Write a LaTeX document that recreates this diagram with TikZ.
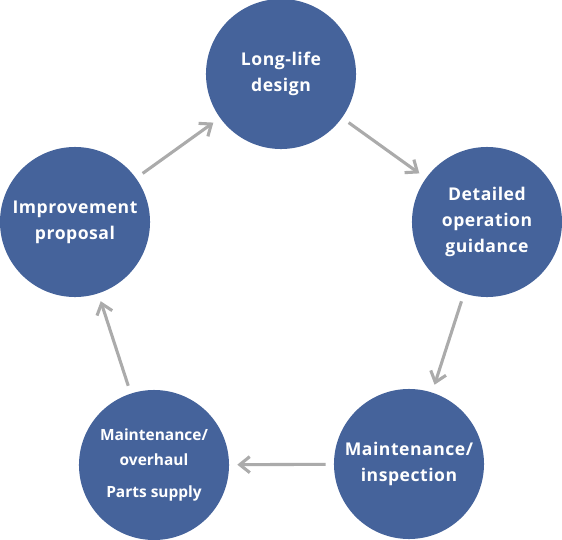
\documentclass[tikz,border=0pt]{standalone}
\usepackage{fontspec}
\setmainfont{Open Sans}
\newfontfamily\spacedfont[LetterSpace=3]{Open Sans}
\usetikzlibrary{arrows.meta}
\definecolor{cycleblue}{HTML}{45639B}
\definecolor{arrowgray}{HTML}{ABABAB}

\begin{document}
\begin{tikzpicture}[x=0.025cm, y=-0.025cm,
    stage/.style={circle, fill=cycleblue, text=white, minimum size=3.75cm, inner sep=0pt, align=center,
                  font=\spacedfont\bfseries\fontsize{12.5}{18.5}\selectfont},
    flow/.style={draw=arrowgray, line width=2.2pt, -{Straight Barb[length=2.5mm,width=4mm]},
                 shorten >=0.2cm, shorten <=0.2cm}]
            \useasboundingbox (0,0) rectangle (562,540);

            % Stages of the cycle, clockwise from the top.
            \node[stage] (design)     at (281,74)  {Long-life\\design};
            \node[stage] (guidance)   at (487,222) {Detailed\\operation\\guidance};
            \node[stage] (inspection) at (409,464) {Maintenance/\\inspection};
            \node[stage, font=\bfseries\fontsize{11}{17.5}\selectfont]
                         (overhaul)   at (154,465) {Maintenance/\\overhaul\\[5pt]Parts supply};
            \node[stage] (proposal)   at (75,222)  {Improvement\\proposal};

            % Arrows between stages.
            \draw[flow] (proposal)   -- (design);
            \draw[flow] (design)     -- (guidance);
            \draw[flow] (guidance)   -- (inspection);
            \draw[flow] (inspection) -- (overhaul);
            \draw[flow] (overhaul)   -- (proposal);
\end{tikzpicture}
\end{document}
